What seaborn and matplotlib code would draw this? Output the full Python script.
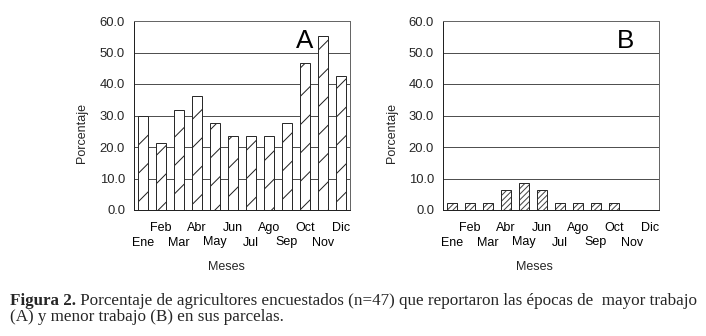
import numpy as np
import pandas as pd
import matplotlib
matplotlib.use("Agg")
import matplotlib.pyplot as plt
from matplotlib.ticker import FormatStrFormatter
import seaborn as sns

# ---- data ----
meses = ["Ene", "Feb", "Mar", "Abr", "May", "Jun", "Jul", "Ago", "Sep", "Oct", "Nov", "Dic"]
mayor_trabajo = [29.8, 21.3, 31.9, 36.2, 27.7, 23.4, 23.4, 23.4, 27.7, 46.8, 55.3, 42.6]
menor_trabajo = [2.1, 2.1, 2.1, 6.4, 8.5, 6.4, 2.1, 2.1, 2.1, 2.1, 0.0, 0.0]
panel_letters = ["A", "B"]
y_ticks = [0, 10, 20, 30, 40, 50, 60]
y_label = "Porcentaje"
x_label = "Meses"
caption_bold = "Figura 2."
caption_line1 = " Porcentaje de agricultores encuestados (n=47) que reportaron las épocas de  mayor trabajo"
caption_line2 = "(A) y menor trabajo (B) en sus parcelas."

W, H = 706, 336
DPI = 170

def P(px):
    return px * 72.0 / DPI

sns.set_style("white")
plt.rcParams["font.family"] = ["Liberation Sans", "DejaVu Sans"]
plt.rcParams["hatch.linewidth"] = P(1.0)

fig = plt.figure(figsize=(W / DPI, H / DPI), dpi=DPI)
fig.patch.set_facecolor("white")

panels = [
    (134, mayor_trabajo, "//", "#222222", 0.79, 226, 82),
    (443, menor_trabajo, "//////////", "#444444", 0.847, 534, 392),
]
ax_top, ax_bot = 21, 210
ax_w = 216
ax_h = ax_bot - ax_top

for (left_px, vals, hatch, hcol, lx, xlab_px, ylab_px), letter in zip(panels, panel_letters):
    ax = fig.add_axes([left_px / W, (H - ax_bot) / H, ax_w / W, ax_h / H])
    df = pd.DataFrame({"mes": meses, "valor": vals})
    sns.barplot(data=df, x="mes", y="valor", ax=ax, color="white", saturation=1,
                edgecolor="#2a2a2a", linewidth=P(1.0), width=0.52, zorder=3)
    for p in ax.patches:
        p.set_hatch(hatch)
        p.set_zorder(3)
        p._hatch_color = matplotlib.colors.to_rgba(hcol)

    ax.set_ylim(0, 60)
    ax.set_xlim(-0.5, 11.5)
    ax.set_yticks(y_ticks)
    ax.yaxis.set_major_formatter(FormatStrFormatter("%.1f"))
    ax.yaxis.grid(True, color="#505050", linewidth=P(1.0), zorder=0)
    ax.set_axisbelow(True)

    ax.set_xticks(range(12))
    ax.set_xticklabels(meses)
    ax.set_xticks(np.arange(-0.5, 12, 1), minor=True)
    ax.tick_params(axis="x", which="major", length=0, labelsize=P(12.5), colors="black")
    ax.tick_params(axis="x", which="minor", length=P(6), width=P(1.0), direction="out", color="#333333")
    ax.tick_params(axis="y", which="major", length=P(6), width=P(1.0), direction="out",
                   pad=P(3), labelsize=P(13), color="#444444")
    for i, tk in enumerate(ax.xaxis.get_major_ticks()):
        tk.set_pad(P(26.5) if i % 2 == 0 else P(12))

    for s in ["left", "bottom"]:
        ax.spines[s].set_color("#222222")
        ax.spines[s].set_linewidth(P(1.0))
    for s in ["top", "right"]:
        ax.spines[s].set_visible(True)
        ax.spines[s].set_color("#666666")
        ax.spines[s].set_linewidth(P(1.0))

    ax.set_xlabel(x_label, fontsize=P(12.5))
    ax.set_ylabel(y_label, fontsize=P(12.5))
    ax.xaxis.set_label_coords((xlab_px - left_px) / ax_w, -(267 - ax_bot) / ax_h)
    ax.xaxis.label.set_va("center")
    ax.yaxis.set_label_coords((ylab_px - left_px) / ax_w, (ax_bot - 133) / ax_h)
    ax.yaxis.label.set_va("center")

    ax.text(lx, (ax_bot - 41) / ax_h, letter, transform=ax.transAxes,
            ha="center", va="center", fontsize=P(26), color="black")

# caption
serif = ["Liberation Serif", "DejaVu Serif"]
cap_px = 17.0
t1 = fig.text(10 / W, (H - 305) / H, caption_bold, family=serif, weight="bold",
              fontsize=P(cap_px), va="baseline", ha="left")
fig.canvas.draw()
r = fig.canvas.get_renderer()
bb = t1.get_window_extent(renderer=r)
fig.text(bb.x1 / W, (H - 305) / H, caption_line1, family=serif,
         fontsize=P(cap_px), va="baseline", ha="left")
fig.text(10 / W, (H - 321) / H, caption_line2, family=serif,
         fontsize=P(cap_px), va="baseline", ha="left")

fig.savefig("out.png", dpi=DPI, facecolor="white")
